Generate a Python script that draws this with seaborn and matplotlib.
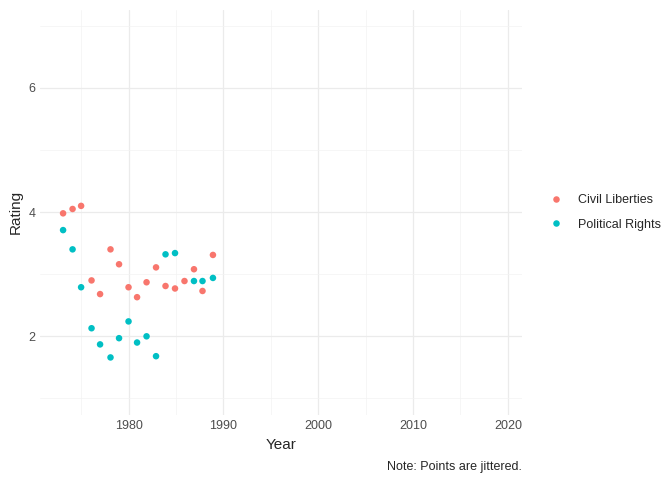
import numpy as np
import pandas as pd
import matplotlib.pyplot as plt
import seaborn as sns
from matplotlib.ticker import MultipleLocator

cl_year = [1973.1, 1974.1, 1975.0, 1976.1, 1977.0, 1978.1, 1979.0, 1980.0, 1980.9, 1981.9,
           1982.9, 1983.9, 1984.9, 1985.9, 1986.9, 1987.8, 1988.9]
cl_rating = [3.98, 4.05, 4.10, 2.90, 2.68, 3.40, 3.16, 2.79, 2.63, 2.87,
             3.11, 2.81, 2.77, 2.89, 3.08, 2.73, 3.31]
pr_year = [1973.1, 1974.1, 1975.0, 1976.1, 1977.0, 1978.1, 1979.0, 1980.0, 1980.9, 1981.9,
           1982.9, 1983.9, 1984.9, 1986.9, 1987.8, 1988.9]
pr_rating = [3.71, 3.40, 2.79, 2.13, 1.87, 1.66, 1.97, 2.24, 1.90, 2.00,
             1.68, 3.32, 3.34, 2.89, 2.89, 2.94]

df = pd.DataFrame({
    "Year": cl_year + pr_year,
    "Rating": cl_rating + pr_rating,
    "Type": ["Civil Liberties"] * len(cl_year) + ["Political Rights"] * len(pr_year),
})

sns.set_style("white")
plt.rcParams['font.family'] = ['Liberation Sans', 'DejaVu Sans']

fig, ax = plt.subplots(figsize=(6.72, 4.8), dpi=100)
sns.scatterplot(data=df, x="Year", y="Rating", hue="Type",
                palette=["#F8766D", "#00BFC4"], s=22, linewidth=0, ax=ax)

ax.set_xlim(1970.7, 2021.5)
ax.set_ylim(0.73, 7.26)
ax.xaxis.set_major_locator(MultipleLocator(10))
ax.xaxis.set_minor_locator(MultipleLocator(5))
ax.yaxis.set_major_locator(MultipleLocator(2))
ax.yaxis.set_minor_locator(MultipleLocator(1))
ax.grid(which="major", color="#EBEBEB", linewidth=0.9)
ax.grid(which="minor", color="#F3F3F3", linewidth=0.5)
ax.set_axisbelow(True)
for s in ax.spines.values():
    s.set_visible(False)
ax.tick_params(which="both", length=0, labelsize=9, colors="#4D4D4D")
ax.set_xlabel("Year", fontsize=11)
ax.set_ylabel("Rating", fontsize=11)

leg = ax.legend(loc="center left", bbox_to_anchor=(1.02, 0.5), frameon=False,
                fontsize=9, title=None, handletextpad=0.8, labelspacing=1.0)
fig.subplots_adjust(left=0.06, right=0.777, top=0.98, bottom=0.135)
fig.text(0.777, 0.02, "Note: Points are jittered.", ha="right", fontsize=9)

plt.savefig("out.png")
